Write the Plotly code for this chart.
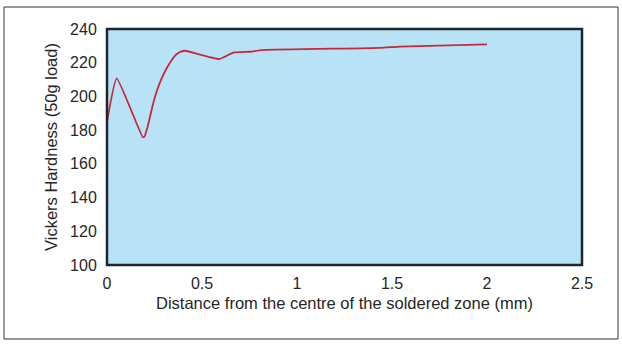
import plotly.graph_objects as go

# Distance from the centre of the soldered zone (mm)
distance_mm = [0.0, 0.051, 0.188, 0.197, 0.215, 0.240, 0.261, 0.287, 0.314,
               0.340, 0.366, 0.390, 0.411, 0.591, 0.665, 0.753, 0.816,
               1.437, 1.542, 2.0]
# Vickers hardness, 50 g load
hardness_hv = [185.0, 210.7, 175.9, 176.2, 182.5, 194.5, 202.8, 210.5, 216.7,
               221.5, 225.0, 226.6, 227.1, 222.2, 226.0, 226.5, 227.5,
               228.8, 229.6, 230.9]

x_ticks = [0, 0.5, 1, 1.5, 2, 2.5]
x_tick_text = ["0", "0.5", "1", "1.5", "2", "2.5"]
y_ticks = [100, 120, 140, 160, 180, 200, 220, 240]

FONT = "Liberation Sans, Arial, sans-serif"
TEXT = "#262626"
CLEAR = "rgba(0,0,0,0)"

fig = go.Figure()
fig.add_trace(go.Scatter(
    x=distance_mm, y=hardness_hv, mode="lines",
    line=dict(color="#c8283c", width=1.8, shape="spline", smoothing=0.4),
    hoverinfo="skip", showlegend=False,
))

fig.update_layout(
    width=622, height=344,
    margin=dict(l=107, r=40, t=29, b=79),
    paper_bgcolor="white",
    plot_bgcolor="#b8e3f7",
    font=dict(family=FONT, size=16, color=TEXT),
    xaxis=dict(
        range=[0, 2.5], tickvals=x_ticks, ticktext=x_tick_text,
        showgrid=False, zeroline=False,
        ticks="outside", ticklen=4, tickcolor=CLEAR,
        tickfont=dict(size=16, color=TEXT),
        title=dict(text="Distance from the centre of the soldered zone (mm)",
                   font=dict(size=16.5, color=TEXT), standoff=6),
    ),
    yaxis=dict(
        range=[100, 240], tickvals=y_ticks,
        showgrid=False, zeroline=False,
        ticks="outside", ticklen=6, tickcolor=CLEAR,
        tickfont=dict(size=16, color=TEXT),
        title=dict(text="Vickers Hardness (50g load)",
                   font=dict(size=16.5, color=TEXT), standoff=8),
    ),
    shapes=[
        # heavy frame around the plotting area
        dict(type="rect", xref="paper", yref="paper", x0=0, y0=0, x1=1, y1=1,
             line=dict(color="#1d2530", width=2.5), layer="above"),
        # thin border around the whole figure
        dict(type="rect", xref="paper", yref="paper",
             x0=-0.2168, y0=-0.3136, x1=1.0758, y1=1.0932,
             line=dict(color="#333333", width=1)),
    ],
)

fig.write_html("out.html")
